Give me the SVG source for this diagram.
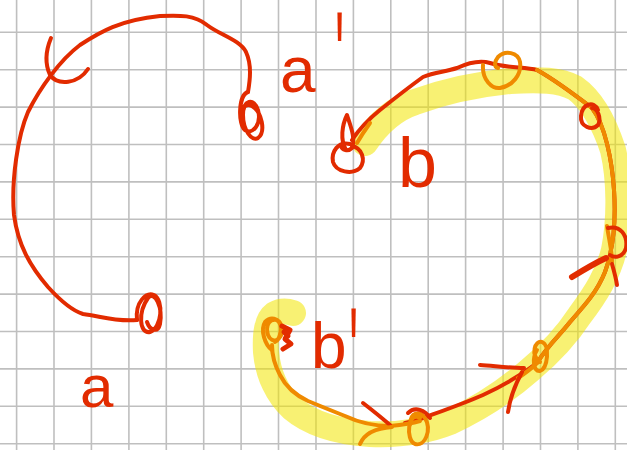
<svg xmlns="http://www.w3.org/2000/svg" width="627" height="450" viewBox="0 0 627 450">
<style>
.grid line{stroke:#bfbfbf;stroke-width:1.6}
.red{fill:none;stroke:#e22b00;stroke-width:4;stroke-linecap:round;stroke-linejoin:round}
.org{fill:none;stroke:#ef8a00;stroke-width:4;stroke-linecap:round;stroke-linejoin:round}
.hl{fill:none;stroke:#f2e600;stroke-opacity:0.55;stroke-width:26;stroke-linecap:round;stroke-linejoin:round}
.lbl{font-family:"Liberation Sans","DejaVu Sans",sans-serif;fill:#e22b00}
</style>
<rect width="627" height="450" fill="#ffffff"/>
<g class="grid" id="grid">
<line x1="16.6" y1="0" x2="16.6" y2="450"/><line x1="54" y1="0" x2="54" y2="450"/><line x1="91.4" y1="0" x2="91.4" y2="450"/><line x1="128.9" y1="0" x2="128.9" y2="450"/><line x1="166.3" y1="0" x2="166.3" y2="450"/><line x1="203.7" y1="0" x2="203.7" y2="450"/><line x1="241.1" y1="0" x2="241.1" y2="450"/><line x1="278.5" y1="0" x2="278.5" y2="450"/><line x1="316" y1="0" x2="316" y2="450"/><line x1="353.4" y1="0" x2="353.4" y2="450"/><line x1="390.8" y1="0" x2="390.8" y2="450"/><line x1="428.2" y1="0" x2="428.2" y2="450"/><line x1="465.6" y1="0" x2="465.6" y2="450"/><line x1="503.1" y1="0" x2="503.1" y2="450"/><line x1="540.5" y1="0" x2="540.5" y2="450"/><line x1="577.9" y1="0" x2="577.9" y2="450"/><line x1="615.3" y1="0" x2="615.3" y2="450"/>
<line x1="0" y1="32.3" x2="627" y2="32.3"/><line x1="0" y1="69.7" x2="627" y2="69.7"/><line x1="0" y1="107.1" x2="627" y2="107.1"/><line x1="0" y1="144.5" x2="627" y2="144.5"/><line x1="0" y1="181.9" x2="627" y2="181.9"/><line x1="0" y1="219.3" x2="627" y2="219.3"/><line x1="0" y1="256.7" x2="627" y2="256.7"/><line x1="0" y1="294.1" x2="627" y2="294.1"/><line x1="0" y1="331.5" x2="627" y2="331.5"/><line x1="0" y1="368.9" x2="627" y2="368.9"/><line x1="0" y1="406.3" x2="627" y2="406.3"/><line x1="0" y1="443.7" x2="627" y2="443.7"/>
</g>
<g id="highlight">
<path class="hl" d="M365,143 C375,128 390,110 415,102 C440,93 470,85 510,81 C540,79 560,80 575,88 C592,100 605,125 613,150 C620,180 620,220 614,250 C608,275 595,295 580,315 C565,338 548,355 530,370 C505,392 480,408 450,422 C425,432 395,435 370,434 C340,432 312,425 292,408 C278,395 268,375 266,352 C265,333 267,320 275,314 C282,310 290,312 293,313"/>
</g>
<g id="path-a">
<path class="red" d="M137,320 C115,322 100,316 83,314 C70,310 58,298 48,287 C30,266 18,245 14,215 C11,180 18,135 28,112 C40,88 60,60 80,45 C100,32 120,20 160,16 C180,15 195,15 207,25 C220,35 240,40 246,52 C252,65 250,80 248,92"/>
<path class="red" d="M51,38 C46,50 44,62 50,75 C58,86 78,84 88,69"/>
<path class="red" d="M137,320 C135,302 146,292 154,295 C164,300 162,328 150,332 C139,334 138,312 148,298 C155,290 163,308 160,324 C158,333 150,331 147,322"/>
<path class="red" d="M248,92 C238,95 238,125 245,130 C252,135 262,125 258,110 C254,97 243,100 243,115 C243,130 252,142 258,138 C266,132 262,112 252,106 C245,102 240,110 242,118"/>
</g>
<g id="path-b">
<path class="red" d="M352,140 C360,128 370,118 380,110 C395,98 405,90 423,77 C435,72 445,72 457,68 C470,62 480,60 490,63 C505,68 525,67 537,70 C555,80 575,95 592,108 C605,125 612,160 614,190 C616,220 613,250 605,272 C597,292 585,305 570,322 C560,335 548,345 537,363 C525,372 505,385 483,395 C465,403 445,410 423,418 C415,421 410,422 405,423"/>
<path class="red" d="M346,150 C340,140 342,125 347,115 C350,125 356,138 352,148 C348,152 342,150 341,146"/>
<path class="red" d="M350,144 C338,141 331,152 333,162 C336,172 352,175 360,168 C366,160 362,148 352,146"/>
<path class="org" d="M357,143 C361,136 365,130 370,123"/>
<path class="org" d="M537,70 C555,80 575,95 592,108 C605,125 612,160 614,190 C616,220 613,250 605,272 C597,292 585,305 570,322 C560,335 548,345 537,363 C530,370 524,374 518,378"/>
<path class="org" d="M420,421 C410,424 400,425 390,426 C375,426 360,423 345,416 C335,412 320,406 308,401 C295,395 285,385 280,375 C273,362 272,350 272,345"/>
<path class="org" d="M483,65 C482,80 492,89 500,88 C512,86 522,75 520,62 C518,52 505,50 498,57 C494,62 494,67 498,68"/>
<path class="red" d="M598,110 C594,100 582,104 581,116 C580,127 592,131 598,125 C602,118 597,108 592,108"/>
<path class="org" d="M607,226 C609,240 612,250 612,262"/>
<path class="red" d="M608,228 C620,225 628,235 626,248 C623,258 614,258 610,255"/>
<path class="red" d="M572,277 C585,269 595,263 606,258" style="stroke-width:6"/>
<path class="red" d="M612,264 C614,271 616,278 617,285"/>
<path class="org" d="M540,362 C530,355 535,340 542,342 C550,345 548,368 540,371 C533,372 532,358 537,350"/>
<path class="red" d="M480,365 C495,366 510,368 524,368"/>
<path class="red" d="M508,412 C510,398 515,385 522,372"/>
<path class="org" d="M420,418 C408,410 405,440 415,444 C425,447 432,430 425,418 C420,410 410,412 410,425"/>
<path class="red" d="M408,413 C415,406 425,410 430,418"/>
<path class="red" d="M363,403 C372,410 382,418 390,425"/>
<path class="org" d="M360,444 C365,432 378,428 392,427"/>
<path class="org" d="M272,350 C265,345 260,330 265,322 C272,315 282,320 282,330 C282,340 272,345 268,335 C265,325 270,318 277,320 C284,325 280,340 275,342"/>
<path class="red" d="M282,326 L290,330 L285,339 L291,344 L283,349 M284,332 L288,336" style="stroke-width:5"/>
</g>
<g id="label-a"><text class="lbl" x="80" y="407" font-size="60">a</text></g>
<g id="label-a-prime"><text class="lbl" x="280" y="92" font-size="64">a</text><text class="lbl" transform="translate(335,103) scale(0.8,2.2)" font-size="60">'</text></g>
<g id="label-b"><text class="lbl" x="398" y="187" font-size="70">b</text></g>
<g id="label-b-prime"><text class="lbl" x="311" y="368" font-size="64">b</text><text class="lbl" transform="translate(349,399) scale(0.8,2.2)" font-size="60">'</text></g>
</svg>
